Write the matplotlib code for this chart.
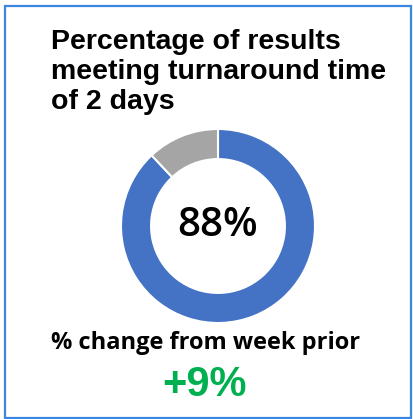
import matplotlib
matplotlib.use("Agg")
import matplotlib.pyplot as plt
from matplotlib.patches import Rectangle

# Data
categories = ["Meeting TAT", "Not meeting TAT"]
values = [88, 12]
colors = ["#4472C4", "#A5A5A5"]
title_text = "Percentage of results\nmeeting turnaround time\nof 2 days"
center_label = "88%"
change_label = "% change from week prior"
change_value = "+9%"

W, H = 413, 419
fig = plt.figure(figsize=(W / 100, H / 100), dpi=100)
fig.patch.set_facecolor("white")

# border
fig.patches.append(Rectangle((5 / W, 1 - 418 / H), 406 / W, 412 / H,
                             transform=fig.transFigure, fill=False,
                             edgecolor="#3A86E0", linewidth=1.6))

# title
fig.text(51 / W, 1 - 29 / H, title_text, ha="left", va="top",
         fontsize=20.5, fontweight="bold", family="Liberation Sans",
         linespacing=1.19, color="black")

# donut
cx, cy, r = 218, 226, 97
ax = fig.add_axes([(cx - r) / W, 1 - (cy + r) / H, 2 * r / W, 2 * r / H])
ax.pie(values, colors=colors, startangle=90, counterclock=False,
       wedgeprops=dict(width=0.31, edgecolor="white", linewidth=1.5),
       radius=1.0)
ax.set_xlim(-1, 1)
ax.set_ylim(-1, 1)
ax.set_aspect("equal")
ax.axis("off")
ax.text(0, 0.0, center_label, ha="center", va="center", fontsize=29,
        fontweight="semibold", family="Open Sans", color="black")

fig.text(206 / W, 1 - 343 / H, change_label, ha="center", va="center",
         fontsize=17, fontweight="bold", family="Open Sans", color="black")
fig.text(204 / W, 1 - 385 / H, change_value, ha="center", va="center",
         fontsize=30, fontweight="bold", family="Liberation Sans",
         color="#00B050")

fig.savefig("out.png", dpi=100, facecolor="white")
